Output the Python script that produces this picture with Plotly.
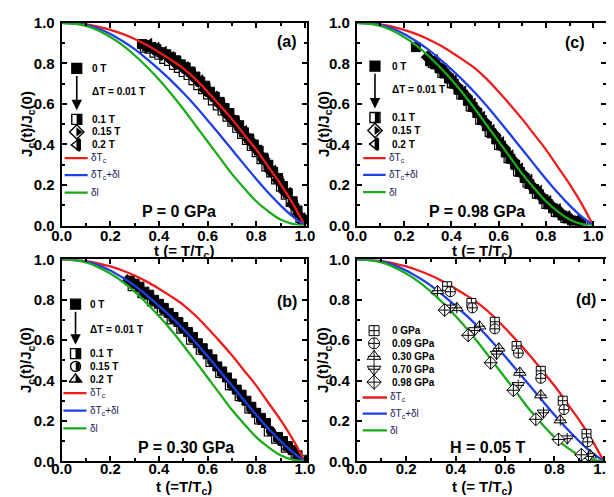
import plotly.graph_objects as go

FONT = "Liberation Sans"

# ---------------- theoretical curves (same in all panels) ----------------
T_CURVE = [0.0, 0.05, 0.1, 0.15, 0.2, 0.25, 0.3, 0.35, 0.4, 0.45, 0.5,
           0.55, 0.6, 0.65, 0.7, 0.75, 0.8, 0.85, 0.9, 0.95, 1.0]
RED_DTC = [1.0, 0.998, 0.992, 0.981, 0.965, 0.945, 0.92, 0.89, 0.855, 0.817, 0.775,
           0.722, 0.66, 0.594, 0.525, 0.45, 0.375, 0.29, 0.205, 0.11, 0.0]
BLUE_DTC_DL = [1.0, 0.997, 0.99, 0.972, 0.945, 0.91, 0.87, 0.822, 0.77, 0.715, 0.655,
               0.59, 0.52, 0.448, 0.375, 0.302, 0.23, 0.162, 0.10, 0.045, 0.0]
GREEN_DL = [1.0, 0.996, 0.985, 0.962, 0.93, 0.89, 0.84, 0.783, 0.72, 0.65, 0.575,
            0.495, 0.415, 0.335, 0.255, 0.185, 0.12, 0.07, 0.03, 0.008, 0.0]

TICK_VALS = [0.0, 0.2, 0.4, 0.6, 0.8, 1.0]
TICK_TEXT = ["0.0", "0.2", "0.4", "0.6", "0.8", "1.0"]
MINOR_VALS = [0.1, 0.3, 0.5, 0.7, 0.9]

# ---------------- panel (a): P = 0 GPa ----------------
A_T_0T = [0.33, 0.35, 0.37, 0.39, 0.41, 0.43, 0.45, 0.47, 0.49, 0.51, 0.53, 0.55, 0.57, 0.59, 0.61, 0.63, 0.65,
          0.67, 0.69, 0.71, 0.73, 0.75, 0.77, 0.79, 0.81, 0.83, 0.85, 0.87, 0.89, 0.91, 0.93, 0.95, 0.97, 0.99]
A_J_0T = [0.895, 0.885, 0.88, 0.87, 0.855, 0.845, 0.83, 0.815, 0.795, 0.78, 0.76, 0.735, 0.71, 0.69, 0.66, 0.635, 0.61,
          0.58, 0.555, 0.52, 0.495, 0.46, 0.43, 0.40, 0.37, 0.335, 0.30, 0.265, 0.235, 0.195, 0.16, 0.12, 0.075, 0.03]
A_T_01T = [0.34, 0.36, 0.38, 0.40, 0.42, 0.44, 0.46, 0.48, 0.50, 0.52, 0.54, 0.56, 0.58, 0.60, 0.62, 0.64, 0.66,
           0.68, 0.70, 0.72, 0.74, 0.76, 0.78, 0.80, 0.82, 0.84, 0.86, 0.88, 0.90, 0.92, 0.94, 0.96, 0.98, 1.0]
A_J_01T = [0.875, 0.87, 0.85, 0.84, 0.82, 0.81, 0.79, 0.775, 0.755, 0.74, 0.715, 0.69, 0.67, 0.645, 0.615, 0.59, 0.565,
           0.535, 0.51, 0.48, 0.45, 0.42, 0.39, 0.36, 0.325, 0.29, 0.26, 0.225, 0.19, 0.15, 0.115, 0.075, 0.035, 0.01]
A_T_015T = [0.35, 0.38, 0.41, 0.44, 0.47, 0.50, 0.53, 0.56, 0.59, 0.62, 0.65, 0.68, 0.71, 0.74, 0.77, 0.80, 0.83,
            0.86, 0.89, 0.92, 0.95, 0.98]
A_J_015T = [0.885, 0.87, 0.845, 0.83, 0.80, 0.78, 0.75, 0.715, 0.67, 0.64, 0.60, 0.55, 0.515, 0.47, 0.425, 0.38, 0.33,
            0.27, 0.225, 0.165, 0.105, 0.045]
A_T_02T = [0.36, 0.39, 0.42, 0.45, 0.48, 0.51, 0.54, 0.57, 0.60, 0.63, 0.66, 0.69, 0.72, 0.75, 0.78, 0.81, 0.84,
           0.87, 0.90, 0.93, 0.96, 0.99]
A_J_02T = [0.895, 0.875, 0.855, 0.83, 0.805, 0.78, 0.745, 0.715, 0.675, 0.635, 0.595, 0.55, 0.51, 0.465, 0.42, 0.37, 0.32,
           0.27, 0.215, 0.16, 0.095, 0.035]

# ---------------- panel (b): P = 0.30 GPa ----------------
B_T_0T = [0.28, 0.30, 0.32, 0.34, 0.36, 0.38, 0.40, 0.42, 0.44, 0.46, 0.48, 0.50, 0.52, 0.54, 0.56, 0.58, 0.60,
          0.62, 0.64, 0.66, 0.68, 0.70, 0.72, 0.74, 0.76, 0.78, 0.80, 0.82, 0.84, 0.89, 0.91, 0.93, 0.95, 0.97]
B_J_0T = [0.895, 0.88, 0.865, 0.84, 0.825, 0.80, 0.78, 0.76, 0.735, 0.715, 0.69, 0.665, 0.64, 0.615, 0.585, 0.56, 0.53,
          0.505, 0.47, 0.445, 0.415, 0.385, 0.355, 0.33, 0.30, 0.27, 0.24, 0.215, 0.19, 0.12, 0.10, 0.075, 0.055, 0.03]
B_T_01T = [0.29, 0.33, 0.37, 0.41, 0.45, 0.49, 0.53, 0.57, 0.61, 0.65, 0.69, 0.73, 0.77, 0.81, 0.85, 0.88, 0.92, 0.96, 0.99]
B_J_01T = [0.865, 0.83, 0.79, 0.745, 0.70, 0.655, 0.60, 0.55, 0.49, 0.435, 0.375, 0.32, 0.26, 0.205, 0.145, 0.11, 0.065,
           0.03, 0.01]
B_T_015T = [0.30, 0.34, 0.38, 0.42, 0.46, 0.50, 0.54, 0.58, 0.62, 0.66, 0.70, 0.74, 0.78, 0.82, 0.86, 0.90, 0.94]
B_J_015T = [0.88, 0.835, 0.795, 0.755, 0.705, 0.66, 0.61, 0.55, 0.495, 0.44, 0.38, 0.32, 0.265, 0.21, 0.15, 0.10, 0.06]
B_T_02T = [0.27, 0.31, 0.35, 0.39, 0.43, 0.47, 0.51, 0.55, 0.59, 0.63, 0.67, 0.71, 0.75, 0.79, 0.83, 0.87, 0.93, 0.97]
B_J_02T = [0.90, 0.87, 0.83, 0.79, 0.745, 0.70, 0.65, 0.60, 0.54, 0.485, 0.425, 0.365, 0.31, 0.25, 0.195, 0.14, 0.07, 0.025]

# ---------------- panel (c): P = 0.98 GPa ----------------
C_T_0T = [0.25, 0.31, 0.33, 0.35, 0.37, 0.39, 0.41, 0.43, 0.45, 0.47, 0.49, 0.51, 0.53, 0.55, 0.57, 0.59, 0.61,
          0.63, 0.65, 0.67, 0.69, 0.71, 0.73, 0.75, 0.77, 0.79, 0.81, 0.83, 0.85, 0.87, 0.89, 0.91, 0.93, 0.95]
C_J_0T = [0.88, 0.81, 0.795, 0.775, 0.75, 0.725, 0.70, 0.67, 0.645, 0.615, 0.585, 0.555, 0.52, 0.49, 0.455, 0.425, 0.395,
          0.36, 0.33, 0.30, 0.265, 0.235, 0.205, 0.18, 0.155, 0.13, 0.105, 0.085, 0.065, 0.05, 0.035, 0.025, 0.015, 0.01]
C_T_01T = [0.32, 0.36, 0.40, 0.44, 0.48, 0.52, 0.56, 0.60, 0.64, 0.68, 0.72, 0.76, 0.80, 0.84, 0.88, 0.92, 0.96]
C_J_01T = [0.80, 0.75, 0.70, 0.645, 0.585, 0.52, 0.46, 0.395, 0.33, 0.265, 0.21, 0.155, 0.105, 0.065, 0.035, 0.015, 0.005]
C_T_015T = [0.30, 0.34, 0.38, 0.42, 0.46, 0.50, 0.54, 0.58, 0.62, 0.66, 0.70, 0.74, 0.78, 0.82, 0.86, 0.90, 0.94]
C_J_015T = [0.83, 0.79, 0.745, 0.69, 0.64, 0.575, 0.51, 0.45, 0.385, 0.32, 0.255, 0.195, 0.145, 0.10, 0.065, 0.035, 0.015]
C_T_02T = [0.33, 0.37, 0.41, 0.45, 0.49, 0.53, 0.57, 0.61, 0.65, 0.69, 0.73, 0.77, 0.81, 0.85, 0.89, 0.93]
C_J_02T = [0.815, 0.77, 0.715, 0.66, 0.60, 0.535, 0.47, 0.41, 0.345, 0.28, 0.225, 0.17, 0.12, 0.08, 0.045, 0.025]

# ---------------- panel (d): H = 0.05 T ----------------
D_T_000 = [0.366, 0.464, 0.559, 0.647, 0.745, 0.834, 0.930]
D_J_000 = [0.867, 0.784, 0.691, 0.571, 0.448, 0.300, 0.136]
D_T_009 = [0.379, 0.468, 0.559, 0.654, 0.745, 0.839, 0.935]
D_J_009 = [0.840, 0.760, 0.656, 0.536, 0.411, 0.256, 0.096]
D_T_030 = [0.327, 0.405, 0.497, 0.575, 0.660, 0.745, 0.824, 0.945]
D_J_030 = [0.845, 0.760, 0.669, 0.560, 0.440, 0.328, 0.204, 0.030]
D_T_070 = [0.379, 0.477, 0.566, 0.654, 0.756, 0.852, 0.938]
D_J_070 = [0.760, 0.648, 0.531, 0.376, 0.240, 0.112, 0.024]
D_T_098 = [0.356, 0.451, 0.542, 0.634, 0.725, 0.817, 0.909]
D_J_098 = [0.749, 0.624, 0.488, 0.352, 0.208, 0.108, 0.032]

RED = "#ee1c1c"
BLUE = "#1f3fe6"
GREEN = "#1aaa1a"
LEG_TXT = "#1a1a55"

fig = go.Figure()

PANELS = {"a": ("x", "y"), "c": ("x2", "y2"), "b": ("x3", "y3"), "d": ("x4", "y4")}


def add_curves(p):
    xa, ya = PANELS[p]
    for vals, col in ((RED_DTC, RED), (BLUE_DTC_DL, BLUE), (GREEN_DL, GREEN)):
        fig.add_trace(go.Scatter(x=T_CURVE, y=vals, mode="lines", line=dict(color=col, width=2.3, shape="spline"),
                                 xaxis=xa, yaxis=ya, showlegend=False, hoverinfo="skip"))


def add_pts(p, t, j, symbol, fill, size=8, lw=1.0):
    xa, ya = PANELS[p]
    fig.add_trace(go.Scatter(x=t, y=j, mode="markers", xaxis=xa, yaxis=ya, showlegend=False,
                             marker=dict(symbol=symbol, size=size, color=fill, line=dict(color="black", width=lw))))


add_pts("a", A_T_01T, A_J_01T, "square", "white", 8, 1.2)
add_pts("a", A_T_0T, A_J_0T, "square", "black", 9)
add_pts("a", A_T_015T, A_J_015T, "diamond", "black", 10)
add_pts("a", A_T_02T, A_J_02T, "triangle-left", "black", 10)
add_curves("a")

add_pts("b", B_T_01T, B_J_01T, "square", "white", 8, 1.2)
add_pts("b", B_T_0T, B_J_0T, "square", "black", 9)
add_pts("b", B_T_015T, B_J_015T, "circle", "black", 9)
add_pts("b", B_T_02T, B_J_02T, "triangle-up", "black", 10)
add_curves("b")

add_pts("c", C_T_01T, C_J_01T, "square", "white", 8, 1.2)
add_pts("c", C_T_0T, C_J_0T, "square", "black", 9)
add_pts("c", C_T_015T, C_J_015T, "diamond", "black", 10)
add_pts("c", C_T_02T, C_J_02T, "triangle-left", "black", 10)
add_curves("c")

add_curves("d")
add_pts("d", D_T_000, D_J_000, "square-cross", "white", 9, 1)
add_pts("d", D_T_009, D_J_009, "circle-cross", "white", 10, 1)
add_pts("d", D_T_030, D_J_030, "triangle-up", "white", 11, 1)
add_pts("d", D_T_030, D_J_030, "cross-thin-open", "black", 8, 1)
add_pts("d", D_T_070, D_J_070, "triangle-down", "white", 11, 1)
add_pts("d", D_T_070, D_J_070, "cross-thin-open", "black", 8, 1)
add_pts("d", D_T_098, D_J_098, "diamond-cross", "white", 10, 1)

annotations = []
LEGSIZE = 10


def txt(p, x, y, s, size=LEGSIZE, color="black", weight="bold", xanchor="left"):
    xa, ya = PANELS[p]
    annotations.append(dict(x=x, y=y, xref=xa, yref=ya, text=s, showarrow=False, xanchor=xanchor, yanchor="middle",
                            font=dict(family=FONT, size=size, color=color, weight=weight)))


def key_marker(p, x, y, symbol, fill, size, lw=1.2):
    xa, ya = PANELS[p]
    fig.add_trace(go.Scatter(x=[x], y=[y], mode="markers", xaxis=xa, yaxis=ya, showlegend=False, hoverinfo="skip",
                             marker=dict(symbol=symbol, size=size, color=fill, line=dict(color="black", width=lw))))


def key_line(p, x0, x1, y, col):
    xa, ya = PANELS[p]
    fig.add_trace(go.Scatter(x=[x0, x1], y=[y, y], mode="lines", xaxis=xa, yaxis=ya, showlegend=False,
                             hoverinfo="skip", line=dict(color=col, width=2.3)))


KEYS = {
    "a": dict(kx=0.062, tx=0.115, y0=0.775, yd=0.663, y1=0.524, y15=0.462, y2=0.398, yr=0.333, yb=0.249, yg=0.163,
              sym15="diamond", sym2="triangle-left", label="P = 0 GPa", lx=0.483, tag="(a)", tagy=0.91),
    "b": dict(kx=0.057, tx=0.11, y0=0.778, yd=0.652, y1=0.533, y15=0.47, y2=0.406, yr=0.338, yb=0.251, yg=0.163,
              sym15="circle", sym2="triangle-up", label="P = 0.30 GPa", lx=0.51, tag="(b)", tagy=0.79),
    "c": dict(kx=0.077, tx=0.14, y0=0.786, yd=0.669, y1=0.533, y15=0.469, y2=0.402, yr=0.333, yb=0.25, yg=0.165,
              sym15="diamond", sym2="triangle-left", label="P = 0.98 GPa", lx=0.507, tag="(c)", tagy=0.904),
}

for p, k in KEYS.items():
    xa, ya = PANELS[p]
    kx, tx = k["kx"], k["tx"]
    du = 0.009
    key_marker(p, kx, k["y0"], "square", "black", 10)
    txt(p, tx, k["y0"], "0 T")
    annotations.append(dict(x=kx, y=k["y1"] + 0.045, ax=kx, ay=k["y0"] - 0.03, xref=xa, yref=ya, axref=xa, ayref=ya,
                            text="", showarrow=True, arrowhead=2, arrowsize=1.3, arrowwidth=1.6, arrowcolor="black"))
    txt(p, tx, k["yd"], "\u0394T = 0.01 T")
    key_marker(p, kx, k["y1"], "square", "white", 10, 1.4)
    key_marker(p, kx + du, k["y1"], "line-ns", "black", 7, 4.5)
    txt(p, tx, k["y1"], "0.1 T")
    if k["sym15"] == "diamond":
        key_marker(p, kx, k["y15"], "diamond", "white", 11, 1.4)
        key_marker(p, kx + 0.007, k["y15"], "triangle-right", "black", 8, 0)
    else:
        key_marker(p, kx, k["y15"], "circle", "white", 10, 1.4)
        key_marker(p, kx + du, k["y15"], "line-ns", "black", 6, 4.0)
    txt(p, tx, k["y15"], "0.15 T")
    if k["sym2"] == "triangle-left":
        key_marker(p, kx, k["y2"], "triangle-left", "white", 11, 1.4)
        key_marker(p, kx + 0.008, k["y2"], "line-ns", "black", 8, 4.5)
    else:
        key_marker(p, kx, k["y2"], "triangle-up", "white", 11, 1.4)
        key_marker(p, kx + 0.01, k["y2"] - 0.003, "triangle-sw", "black", 8, 0)
    txt(p, tx, k["y2"], "0.2 T")
    key_line(p, kx - 0.05, kx + 0.045, k["yr"], RED)
    key_line(p, kx - 0.05, kx + 0.045, k["yb"], BLUE)
    key_line(p, kx - 0.05, kx + 0.045, k["yg"], GREEN)
    txt(p, kx + 0.05, k["yr"], "\u03b4T<sub>c</sub>", LEGSIZE, LEG_TXT, "normal")
    txt(p, kx + 0.05, k["yb"], "\u03b4T<sub>c</sub>+\u03b4l", LEGSIZE, LEG_TXT, "normal")
    txt(p, kx + 0.05, k["yg"], "\u03b4l", LEGSIZE, LEG_TXT, "normal")
    txt(p, k["lx"], 0.07, k["label"], 16, "black", "bold", "center")
    txt(p, 0.975, k["tagy"], k["tag"], 16, "black", "bold", "right")

DKX, DTX = 0.07, 0.135
key_marker("d", DKX, 0.647, "square-cross", "white", 10, 1)
txt("d", DTX, 0.647, "0 GPa")
key_marker("d", DKX, 0.584, "circle-cross", "white", 11, 1)
txt("d", DTX, 0.584, "0.09 GPa")
key_marker("d", DKX, 0.52, "triangle-up", "white", 12, 1)
key_marker("d", DKX, 0.52, "cross-thin-open", "black", 9, 1)
txt("d", DTX, 0.52, "0.30 GPa")
key_marker("d", DKX, 0.456, "triangle-down", "white", 12, 1)
key_marker("d", DKX, 0.456, "cross-thin-open", "black", 9, 1)
txt("d", DTX, 0.456, "0.70 GPa")
key_marker("d", DKX, 0.392, "diamond-cross", "white", 11, 1)
txt("d", DTX, 0.392, "0.98 GPa")
key_line("d", 0.024, 0.122, 0.316, RED)
key_line("d", 0.024, 0.122, 0.236, BLUE)
key_line("d", 0.024, 0.122, 0.153, GREEN)
txt("d", 0.127, 0.316, "\u03b4T<sub>c</sub>", LEGSIZE, LEG_TXT, "normal")
txt("d", 0.127, 0.236, "\u03b4T<sub>c</sub>+\u03b4l", LEGSIZE, LEG_TXT, "normal")
txt("d", 0.127, 0.153, "\u03b4l", LEGSIZE, LEG_TXT, "normal")
txt("d", 0.53, 0.07, "H = 0.05 T", 16, "black", "bold", "center")
txt("d", 0.975, 0.80, "(d)", 16, "black", "bold", "right")

TICKFONT = dict(family=FONT, size=15, color="black", weight="bold")
TITLEFONT = dict(family=FONT, size=15, color="black", weight="bold")

LEFT = [45 / 614, 298 / 614]
RIGHT = [349 / 614, 606 / 614]
TOP = [1 - 216 / 497, 1 - 6 / 497]
BOTTOM = [1 - 460 / 497, 1 - 251 / 497]

X_TITLES = [("t (= T/T<sub>c</sub>)", (LEFT[0] + LEFT[1]) / 2, 1 - 243 / 497),
            ("t (= T/T<sub>c</sub>)", (RIGHT[0] + RIGHT[1]) / 2, 1 - 243 / 497),
            ("t (=T/T<sub>c</sub>)", (LEFT[0] + LEFT[1]) / 2, 1 - 487 / 497),
            ("t (= T/T<sub>c</sub>)", (RIGHT[0] + RIGHT[1]) / 2, 1 - 487 / 497)]
for s, xp, yp in X_TITLES:
    annotations.append(dict(x=xp, y=yp, xref="paper", yref="paper", text=s, showarrow=False,
                            xanchor="center", yanchor="middle", font=TITLEFONT))
Y_TITLES = [(9 / 614, (TOP[0] + TOP[1]) / 2), (315 / 614, (TOP[0] + TOP[1]) / 2),
            (9 / 614, (BOTTOM[0] + BOTTOM[1]) / 2), (315 / 614, (BOTTOM[0] + BOTTOM[1]) / 2)]
for xp, yp in Y_TITLES:
    annotations.append(dict(x=xp, y=yp, xref="paper", yref="paper", text="J<sub>c</sub>(t)/J<sub>c</sub>(0)",
                            showarrow=False, textangle=-90, xanchor="center", yanchor="middle", font=TITLEFONT))


def common(dom, rng, anchor, standoff):
    return dict(domain=dom, range=rng, anchor=anchor, showline=True, linecolor="black", linewidth=2,
                mirror="ticks", ticks="inside", ticklen=5, tickwidth=1.5, tickcolor="black",
                tickmode="array", tickvals=TICK_VALS, ticktext=TICK_TEXT, ticklabelstandoff=standoff,
                minor=dict(tickmode="array", tickvals=MINOR_VALS, ticks="inside", ticklen=3, tickwidth=1.5,
                           tickcolor="black"),
                showgrid=False, zeroline=False, tickfont=TICKFONT)


fig.update_layout(
    width=614, height=497, margin=dict(l=0, r=0, t=0, b=0),
    paper_bgcolor="white", plot_bgcolor="white", showlegend=False,
    xaxis=common(LEFT, [0, 1.01], "y", -5),
    yaxis=common(TOP, [0, 1.0], "x", 2),
    xaxis2=common(RIGHT, [0, 1.055], "y2", -5),
    yaxis2=common(TOP, [0, 1.0], "x2", 2),
    xaxis3=common(LEFT, [0, 1.01], "y3", -7),
    yaxis3=common(BOTTOM, [0, 1.0], "x3", 2),
    xaxis4=common(RIGHT, [0, 1.01], "y4", -7),
    yaxis4=common(BOTTOM, [0, 1.0], "x4", 2),
    annotations=annotations,
)

fig.write_html("out.html")
